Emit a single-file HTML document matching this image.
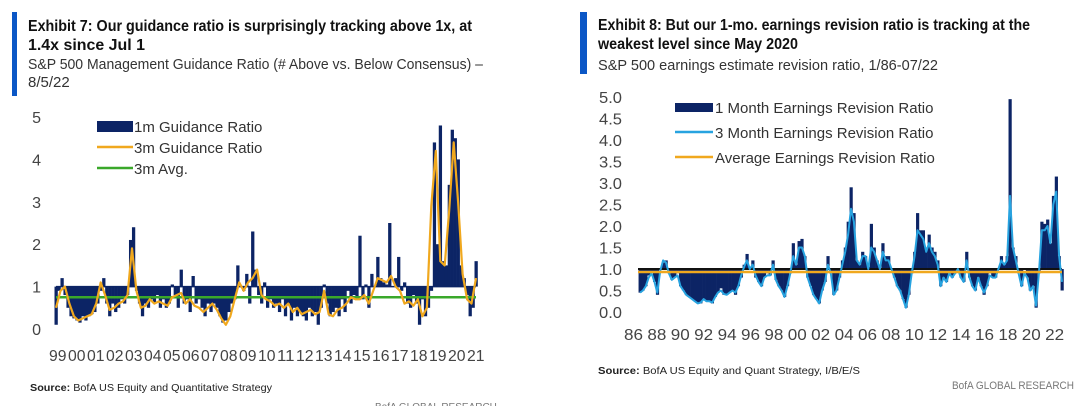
<!DOCTYPE html>
<html><head><meta charset="utf-8"><style>
body{margin:0;background:#fff;width:1080px;height:406px;overflow:hidden}
svg text{font-family:"Liberation Sans",sans-serif}
</style></head><body>
<svg id="s" width="1080" height="406" xmlns="http://www.w3.org/2000/svg">
<rect x="12" y="12" width="5" height="84" fill="#0b57c6"/>
<text x="28" y="31" font-size="16" font-weight="bold" fill="#111" textLength="444" lengthAdjust="spacingAndGlyphs">Exhibit 7: Our guidance ratio is surprisingly tracking above 1x, at</text>
<text x="28" y="50" font-size="16" font-weight="bold" fill="#111" textLength="117" lengthAdjust="spacingAndGlyphs">1.4x since Jul 1</text>
<text x="28" y="69" font-size="15" fill="#333" textLength="455" lengthAdjust="spacingAndGlyphs">S&amp;P 500 Management Guidance Ratio (# Above vs. Below Consensus) –</text>
<text x="28" y="87" font-size="15" fill="#333">8/5/22</text>
<rect x="580" y="12" width="7" height="62" fill="#0b57c6"/>
<text x="598" y="30" font-size="16" font-weight="bold" fill="#111" textLength="432" lengthAdjust="spacingAndGlyphs">Exhibit 8: But our 1-mo. earnings revision ratio is tracking at the</text>
<text x="598" y="49" font-size="16" font-weight="bold" fill="#111" textLength="200" lengthAdjust="spacingAndGlyphs">weakest level since May 2020</text>
<text x="598" y="70" font-size="15" fill="#333" textLength="340" lengthAdjust="spacingAndGlyphs">S&amp;P 500 earnings estimate revision ratio, 1/86-07/22</text>
<text x="30" y="391" font-size="10" fill="#222" textLength="242" lengthAdjust="spacingAndGlyphs"><tspan font-weight="bold">Source:</tspan> BofA US Equity and Quantitative Strategy</text>
<text x="375" y="410" font-size="10" fill="#777">BofA GLOBAL RESEARCH</text>
<text x="598" y="374" font-size="10" fill="#222" textLength="262" lengthAdjust="spacingAndGlyphs"><tspan font-weight="bold">Source:</tspan> BofA US Equity and Quant Strategy, I/B/E/S</text>
<text x="1074" y="389" font-size="11" fill="#777" text-anchor="end" textLength="122" lengthAdjust="spacingAndGlyphs">BofA GLOBAL RESEARCH</text>
<g id="c1"></g>
<g id="c2"></g>
</svg>
<script>
const NS="http://www.w3.org/2000/svg";
// ===== Chart 1 data =====
const g1Ticks=[0,1,2,3,4,5];
const g1Years=["99","00","01","02","03","04","05","06","07","08","09","10","11","12","13","14","15","16","17","18","19","20","21"];
const g1Bars=[0.1,0.9,1.2,0.8,0.5,0.3, 0.25,0.2,0.15,0.3,0.2,0.3, 0.35,0.4,0.6,0.9,1.2,0.6, 0.3,0.6,0.4,0.5,0.7,0.6, 0.8,2.1,2.4,0.9,0.6,0.3, 0.6,0.5,0.7,0.6,0.8,0.5, 0.7,0.5,0.6,1.05,0.8,0.5, 1.4,0.6,0.7,0.4,1.25,0.6, 0.7,0.5,0.3,0.6,0.4,0.6, 0.5,0.3,0.15,0.2,0.4,0.6, 0.7,1.5,1.0,0.9,1.3,0.6, 2.3,1.4,0.8,0.6,1.1,0.5, 0.7,0.5,0.6,0.4,0.7,0.3, 0.6,0.2,0.5,0.3,0.4,0.3, 0.2,0.5,0.3,0.4,0.1,0.5, 1.05,0.6,0.3,0.4,0.5,0.3, 0.7,0.4,0.9,0.6,0.8,0.7, 2.2,0.7,1.05,0.5,1.3,1.0, 1.7,1.2,1.1,1.05,2.5,1.0, 1.2,1.7,0.9,1.1,0.6,0.5, 0.8,0.6,0.1,0.7,0.3,0.5, 0.9,4.4,2.0,4.8,1.6,1.5, 3.4,4.7,4.5,4.0,1.5,1.2, 0.8,0.3,0.5,1.6];
const g1Line=[0.5,0.9,1.0,0.6, 0.3,0.2,0.25,0.3, 0.35,0.6,1.1,0.8, 0.45,0.5,0.6,0.65, 0.8,1.9,0.9,0.5, 0.55,0.7,0.6,0.65, 0.6,0.55,0.75,0.8, 0.85,0.6,0.7,0.55, 0.5,0.4,0.5,0.6, 0.45,0.25,0.1,0.3, 0.7,1.1,0.9,1.1, 1.2,1.4,0.8,0.7, 0.65,0.55,0.6,0.5, 0.6,0.4,0.5,0.35, 0.4,0.45,0.35,0.4, 0.9,0.35,0.3,0.45, 0.5,0.6,0.75,0.7, 0.7,0.8,0.6,0.9, 1.2,1.15,1.1,1.25, 1.0,0.9,0.6,0.65, 0.55,0.7,0.3,0.5, 2.9,4.2,1.6,1.5, 2.8,4.4,3.0,1.3, 0.7,0.6,1.2];
const g1Avg=[0.75];
// ===== Chart 2 data =====
const g2Ticks=["0.0","0.5","1.0","1.5","2.0","2.5","3.0","3.5","4.0","4.5","5.0"];
const g2Years=["86","88","90","92","94","96","98","00","02","04","06","08","10","12","14","16","18","20","22"];
const g2Bars=[0.45,0.5,0.6,0.85, 0.95,0.7,0.4,1.0, 1.15,1.2,0.9,0.75, 0.8,0.9,0.6,0.5, 0.4,0.35,0.3,0.25, 0.2,0.2,0.3,0.25, 0.25,0.2,0.35,0.45, 0.55,0.4,0.4,0.45, 0.5,0.4,0.6,0.8, 1.1,1.35,1.0,1.2, 0.8,0.7,0.6,0.8, 0.9,0.85,1.2,0.75, 0.6,0.5,0.35,0.6, 0.9,1.6,1.1,1.65, 1.7,1.3,0.8,0.6, 0.4,0.3,0.2,0.5, 0.7,1.3,0.9,0.4, 0.5,0.8,1.2,1.5, 2.1,2.9,2.3,1.2, 1.1,1.4,1.3,1.05, 2.05,1.5,1.2,1.0, 1.6,1.3,1.3,1.0, 0.8,0.6,0.5,0.3, 0.1,0.4,0.9,1.4, 2.3,1.9,1.9,1.5, 1.8,1.5,1.4,1.2, 0.6,0.8,0.7,0.9, 0.8,0.9,1.0,0.8, 0.7,1.4,0.8,0.6, 0.5,0.8,0.6,0.4, 0.6,0.9,0.8,0.8, 1.0,1.3,1.1,1.3, 4.95,1.5,1.3,0.9, 0.6,1.0,0.8,0.5, 0.6,0.1,0.9,2.1, 2.05,2.15,1.6,2.7, 3.15,1.3,0.5];
const g2Line=[0.45,0.5,0.6,0.8, 0.9,0.7,0.45,0.95, 1.2,1.15,0.9,0.75, 0.8,0.85,0.6,0.5, 0.4,0.35,0.3,0.25, 0.2,0.22,0.3,0.25, 0.25,0.22,0.35,0.45, 0.5,0.42,0.4,0.45, 0.5,0.45,0.6,0.85, 1.05,1.2,1.0,1.1, 0.85,0.7,0.6,0.8, 0.85,0.85,1.1,0.75, 0.6,0.5,0.35,0.6, 0.9,1.3,1.1,1.5, 1.5,1.3,0.8,0.6, 0.4,0.3,0.2,0.5, 0.7,1.1,0.9,0.4, 0.5,0.8,1.1,1.4, 1.8,2.4,2.1,1.2, 1.1,1.3,1.3,1.0, 1.5,1.4,1.2,1.0, 1.4,1.2,1.2,1.0, 0.8,0.6,0.5,0.3, 0.1,0.4,0.9,1.3, 1.9,1.8,1.7,1.4, 1.6,1.4,1.3,1.1, 0.6,0.8,0.7,0.9, 0.8,0.9,1.0,0.8, 0.7,1.2,0.8,0.6, 0.5,0.8,0.6,0.45, 0.6,0.85,0.8,0.8, 1.0,1.2,1.1,1.2, 2.7,1.5,1.2,0.9, 0.6,0.9,0.8,0.5, 0.6,0.15,0.9,1.9, 1.9,2.0,1.6,2.5, 2.8,1.3,0.7];
const g2Avg=[0.93];

function el(p,tag,attrs){const e=document.createElementNS(NS,tag);for(const k in attrs)e.setAttribute(k,attrs[k]);p.appendChild(e);return e;}

// chart 1
(function(){
const g=document.getElementById('c1');
const y=v=>329-v*42.4;
const x0=56,x1=476;
const xb=i=>x0+(x1-x0)*i/(g1Bars.length-1);
const xl=i=>x0+(x1-x0)*i/(g1Line.length-1);
g1Ticks.forEach(t=>{const e=el(g,'text',{x:41,y:y(t)+6,'font-size':16,fill:'#444','text-anchor':'end'});e.textContent=t;

});
g1Years.forEach((t,i)=>{const e=el(g,'text',{x:49+i*19,y:361,'font-size':16,fill:'#444',textLength:17.5,lengthAdjust:'spacingAndGlyphs'});e.textContent=t;

});
const bw=(x1-x0)/(g1Bars.length-1);
g1Bars.forEach((v,i)=>{const a=y(1),b=y(v);const r=el(g,'rect',{x:xb(i)-bw/2,y:Math.min(a,b),width:bw+0.3,height:Math.abs(a-b),fill:'#0c2465'});

});
el(g,'line',{x1:x0,x2:x1,y1:y(1),y2:y(1),stroke:'#0c2465','stroke-width':1.5});
const av=el(g,'line',{x1:x0,x2:x1,y1:y(g1Avg[0]),y2:y(g1Avg[0]),stroke:'#3aa82a','stroke-width':2.5});


const p=el(g,'path',{d:g1Line.map((v,i)=>(i?'L':'M')+xl(i).toFixed(1)+','+y(v).toFixed(1)).join(''),fill:'none',stroke:'#f0a81e','stroke-width':2.2,'stroke-linejoin':'round'});


el(g,'rect',{x:97,y:121,width:36,height:11,fill:'#0c2465'});
el(g,'line',{x1:97,x2:133,y1:147,y2:147,stroke:'#f0a81e','stroke-width':2.5});
el(g,'line',{x1:97,x2:133,y1:168,y2:168,stroke:'#3aa82a','stroke-width':2.5});
[["1m Guidance Ratio",132],["3m Guidance Ratio",153],["3m Avg.",174]].forEach(([t,yy])=>{const e=el(g,'text',{x:134,y:yy,'font-size':15,fill:'#333'});e.textContent=t;

});
})();

// chart 2
(function(){
const g=document.getElementById('c2');
const y=v=>312-v*43;
const x0=640,x1=1062;
const xb=i=>x0+(x1-x0)*i/(g2Bars.length-1);
const xl=i=>x0+(x1-x0)*i/(g2Line.length-1);
g2Ticks.forEach(t=>{const e=el(g,'text',{x:622,y:y(+t)+6,'font-size':16,fill:'#444','text-anchor':'end',textLength:23,lengthAdjust:'spacingAndGlyphs'});e.textContent=t;

});
g2Years.forEach((t,i)=>{const e=el(g,'text',{x:624+i*23.4,y:340,'font-size':16,fill:'#444',textLength:19,lengthAdjust:'spacingAndGlyphs'});e.textContent=t;

});
const bw=(x1-x0)/(g2Bars.length-1);
g2Bars.forEach((v,i)=>{const a=y(1),b=y(v);const r=el(g,'rect',{x:xb(i)-bw/2,y:Math.min(a,b),width:bw+0.3,height:Math.abs(a-b),fill:'#0c2465'});

});
el(g,'line',{x1:638,x2:1062,y1:y(1),y2:y(1),stroke:'#111','stroke-width':2});
const p=el(g,'path',{d:g2Line.map((v,i)=>(i?'L':'M')+xl(i).toFixed(1)+','+y(v).toFixed(1)).join(''),fill:'none',stroke:'#27a3e0','stroke-width':2,'stroke-linejoin':'round'});


const av=el(g,'line',{x1:638,x2:1062,y1:y(g2Avg[0]),y2:y(g2Avg[0]),stroke:'#f0a81e','stroke-width':2.5});


el(g,'rect',{x:675,y:103,width:38,height:9,fill:'#0c2465'});
el(g,'line',{x1:675,x2:713,y1:132,y2:132,stroke:'#27a3e0','stroke-width':2.5});
el(g,'line',{x1:675,x2:713,y1:157,y2:157,stroke:'#f0a81e','stroke-width':2.5});
[["1 Month Earnings Revision Ratio",113],["3 Month Earnings Revision Ratio",138],["Average Earnings Revision Ratio",163]].forEach(([t,yy])=>{const e=el(g,'text',{x:715,y:yy,'font-size':15,fill:'#333'});e.textContent=t;

});
})();
</script>
</body></html>
